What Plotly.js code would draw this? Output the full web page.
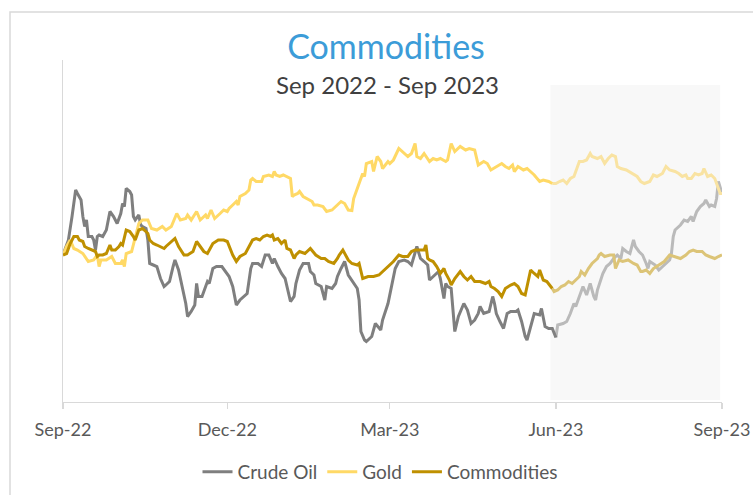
<!DOCTYPE html>
<html>
<head>
<meta charset="utf-8">
<script src="https://cdn.plot.ly/plotly-3.0.1.min.js"></script>
<style>html,body{margin:0;padding:0;background:#fff;}#chart{width:753px;height:495px;}</style>
</head>
<body>
<div id="chart"></div>
<script>
// Days since 1 Sep 2022 and index values (start = 100)
const crudeDays = [0,3,5,7,8,10,11,12,13,14,16,17,18,19,20,22,24,26,28,30,32,33,34,35,37,38,39,40,42,43,44,46,47,48,50,52,54,56,57,59,61,62,64,66,68,69,71,73,74,75,77,80,81,83,85,88,90,92,94,96,98,102,104,105,108,110,112,114,116,117,119,121,123,124,126,128,129,131,133,136,137,139,140,143,145,146,149,151,152,154,156,158,160,163,164,165,167,168,171,173,176,177,180,182,184,186,189,191,193,196,198,200,202,203,206,208,209,211,212,213,215,217,219,222,224,226,228,230,231,233,236,238,239,240,242,244,246,248,251,252,254,256,257,259,261,264,265,267,269,271,273];
const crudeVals = [100,103,107.7,113,112.3,111,107.7,105.7,107,103.7,103.7,103,101,103.7,104,103.7,105,108.7,107.7,106.3,108.3,110.3,109.7,113.3,112.7,112,107.7,107,108,106,105.7,105.3,103,98.3,98,97.7,95.3,93.7,94,94.7,97.7,99,97,93.7,90.3,87.7,88.7,90,94.3,91.7,91.7,94.7,94.3,97.3,97.7,97.7,96.7,95.7,93.7,90,91,92.3,97.3,98.3,98.3,97.7,100,100,98.3,99.3,97.7,96.3,95.3,93.7,90.7,91.7,94.3,97,98.3,98.3,96.7,96,94.3,93.7,91,93.7,93.3,94.3,95.7,97.3,98.7,96,95,93.3,91,84.7,83,82.7,83.7,86.3,85,87,90.3,93.7,97.3,98.7,99,98.7,98,101.7,99.3,98.7,98,95,96,96.7,95.3,91.3,94.3,93.7,93.3,84.7,87.7,90.3,89,86.3,87,88.3,89.7,88.3,88.7,91.7,90.3,88.3,86.7,85.3,88.3,88.7,88.7,89,86.7,83.7,83,85.7,88.3,88,89.3,85.7,85.3,85.3,83.5];
const crudeFadeDays = [273,274,277,279,281,283,284,286,288,290,292,294,295,296,298,299,301,303,305,307,309,310,312,314,316,317,319,321,323,324,325,328,330,333,336,337,338,339,342,344,346,348,349,351,353,355,356,358,359,361,362,363,364,365];
const crudeFadeVals = [83.5,86,86.3,86.7,88.3,90.3,89.7,91.7,93.7,92,94.3,91.7,91,93,95,96.3,97.7,98.3,99.3,100,99.3,101.3,100.7,100.3,103,101.7,100.7,100,98.3,97.3,98.7,98,97,98,99,100.3,103.7,105,106,107,106.7,107.7,106.7,108.7,109.7,110.3,111,109.7,110,109.7,111.3,114.7,113.7,112.3];

const goldDays = [0,2,4,6,8,11,14,17,19,20,21,24,27,29,32,33,34,35,38,40,42,44,47,49,52,55,57,60,63,65,68,69,71,74,76,79,80,82,84,87,89,91,92,94,96,97,98,101,103,104,105,107,110,111,114,116,117,118,120,122,124,126,127,128,130,131,133,136,138,139,141,144,146,149,151,152,154,156,158,160,161,163,164,166,167,168,171,172,174,176,177,178,180,181,183,186,188,191,193,195,196,198,200,201,203,205,207,209,212,213,215,217,220,223,225,228,230,233,235,237,240,243,245,247,249,250,252,255,257,259,261,264,266,269,271];
const goldVals = [100,101.7,103,101.3,101,100.3,98.7,99,100,97.7,99,99,99.7,98.3,98.3,99,97.7,100.3,100.7,103.7,106.3,107,107,105.3,105,105.7,105,105.7,108.3,107,107.3,108,107,108.7,107,108,107.3,109,107.3,108.3,109,108.7,109.3,110,110.7,110,111.7,112.3,113,115,115.3,114.7,114.7,115.7,116,115.7,116.7,116,115.7,116,115.7,115.3,111.7,112,112.3,112.7,111.7,111,110.7,110,110,109.7,108.7,109,109.7,110,110.7,110.3,109,108.9,111.3,113.3,114.3,116.3,115.7,118.3,118.7,116.7,119.7,118.7,117.3,117.7,118.7,118.3,119,121.3,120.7,119.7,120.3,122.3,119.7,119.3,120.3,119.7,118.7,119.3,119,119.3,118.7,119,122.3,120.7,121.7,121,121.3,121,118,118.7,118.3,117,117.7,118.3,117.7,117.3,118,116.7,117.7,117,117.3,116.7,116,114.7,115,114.7,114.3];
const goldFadeDays = [271,273,275,277,279,281,283,285,286,288,290,292,293,296,298,300,302,304,306,307,309,312,315,318,320,322,325,327,329,332,334,336,339,341,343,345,346,348,350,352,354,355,357,359,361,363,364,365];
const goldFadeVals = [114.3,114.3,114.7,115,114.3,115.3,115.7,117.7,118.7,118.7,119,120.3,119.7,119.3,119.7,118.3,119.3,120,119.7,117.7,117.3,117,116.3,115.7,114.7,114.3,114.7,116,115.7,116.3,117.7,117,116.7,116.3,115.7,116,115.3,115.3,116.3,116,116.3,117.3,115.7,116,115.3,113,112.3,112.3];

const commDays = [0,2,4,6,8,9,11,12,14,16,18,19,20,22,24,26,27,29,31,32,33,35,37,39,40,42,44,45,47,48,50,52,54,56,57,59,62,64,67,69,72,74,76,78,80,81,83,86,89,91,92,94,96,98,101,103,105,107,109,111,113,115,116,117,119,121,123,124,126,128,129,131,134,137,139,140,143,145,147,150,152,153,155,156,158,160,163,164,165,166,169,172,175,177,180,183,186,188,191,193,195,197,200,201,202,203,205,207,209,211,212,214,215,217,220,222,224,226,228,231,234,236,237,239,241,243,245,248,250,252,254,256,258,259,261,263,264,266,268,269,271];
const commVals = [100,100.3,102.3,103.7,103.7,103,102.7,101.7,101.3,101,100.7,99.7,100,100,100.3,102,101,101,101.7,102.3,102,105,104.7,103.7,103,105,105.3,105,104.3,103,102.3,102,101.7,101.3,101.7,102.3,103.3,101.7,100,100,100.7,102.7,101.7,100.7,100.3,101,102.3,103,103,102.7,101.8,100,98.7,99.7,100.3,101.7,103,103.3,103,103.7,104,103.7,104,103,103.3,102.3,103,101.3,101,99.3,100,100.7,100.3,101.3,100.3,100,99.3,99.3,98.7,98.3,99.3,100,101,100.3,99,98.3,98,98.3,97,95.3,95.7,95.7,96,96.7,97.7,98.7,100,99.7,99.7,100.7,101,101,101,102,99.3,99,98.7,97.7,96.3,97.3,96.3,95,94,95.3,96.7,95.7,95,95.7,94.7,94.7,94.3,94.7,93.7,93.3,92.7,91.7,93.3,94,94.3,93.7,92.3,92,95,97,96.3,95.7,97,95,94.7,94.3,93.3];
const commFadeDays = [271,272,274,276,278,280,282,284,286,287,289,291,293,296,297,298,300,303,305,306,308,310,313,316,318,320,321,323,325,327,330,333,336,339,342,345,347,349,351,354,356,358,361,363,365];
const commFadeVals = [93.3,92.7,93,93.7,94,94.7,94.3,95,95.7,96.7,96,97.3,98.3,99.3,100,100.3,99.7,100,100,97.3,99,98.7,99,98.3,98,96.7,96.7,97,96.3,97.3,98,98.7,100,99.7,99.3,100,100.7,101,100.7,100.7,100,99.7,99.3,99.7,100];

const seriesNames = ['Crude Oil', 'Gold', 'Commodities'];
const shadeStart = '2023-05-29', shadeEnd = '2023-08-31';

const start = Date.UTC(2022, 8, 1);
const toDate = d => new Date(start + d * 86400000).toISOString().slice(0, 10);

const FONT = 'Lato, "Open Sans", sans-serif';
function line(days, vals, name, color, show) {
  return {
    x: days.map(toDate), y: vals, name: name, type: 'scatter', mode: 'lines',
    line: {color: color, width: 3}, showlegend: show, hoverinfo: 'skip'
  };
}

const traces = [
  line(crudeFadeDays, crudeFadeVals, seriesNames[0], '#bababa', false),
  line(goldFadeDays, goldFadeVals, seriesNames[1], '#f9e3a2', false),
  line(commFadeDays, commFadeVals, seriesNames[2], '#dcc477', false),
  line(crudeDays, crudeVals, seriesNames[0], '#7f7f7f', true),
  line(goldDays, goldVals, seriesNames[1], '#ffd966', true),
  line(commDays, commVals, seriesNames[2], '#bf9000', true)
];

const layout = {
  width: 753, height: 495,
  margin: {l: 63, r: 31, t: 60, b: 93, pad: 0},
  paper_bgcolor: '#ffffff', plot_bgcolor: 'rgba(0,0,0,0)',
  font: {family: FONT, color: '#595959', size: 18},
  title: {
    text: 'Commodities',
    font: {family: FONT, size: 34, color: '#3c9cd8'},
    x: 386 / 753, xref: 'container', xanchor: 'center',
    y: 1 - 47 / 495, yref: 'container', yanchor: 'middle'
  },
  annotations: [{
    text: 'Sep 2022 - Sep 2023', xref: 'paper', yref: 'paper',
    x: (387 - 63) / 659, y: (402 - 85) / 342, xanchor: 'center', yanchor: 'middle',
    showarrow: false, font: {family: FONT, size: 24, color: '#404040'}
  }],
  xaxis: {
    type: 'date', range: ['2022-09-01', '2023-09-01'],
    tick0: '2022-09-01', dtick: 'M3', tickformat: '%b-%y',
    showgrid: false, zeroline: false,
    showline: true, linecolor: '#d9d9d9', linewidth: 1.3,
    ticks: 'outside', ticklen: 6, tickcolor: '#d9d9d9', tickwidth: 1.3,
    ticklabelstandoff: 5,
    tickfont: {family: FONT, size: 18, color: '#595959'}
  },
  yaxis: {
    range: [70.6, 139], showgrid: false, zeroline: false,
    showticklabels: false, ticks: '',
    showline: true, linecolor: '#d9d9d9', linewidth: 1.3
  },
  legend: {
    orientation: 'h', x: (380 - 63) / 659, xanchor: 'center',
    yref: 'container', y: 1 - 472 / 495, yanchor: 'middle',
    font: {family: FONT, size: 19, color: '#595959'},
    itemwidth: 30, tracegroupgap: 0, bgcolor: 'rgba(0,0,0,0)'
  },
  shapes: [
    {type: 'rect', xref: 'x', yref: 'paper', x0: shadeStart, x1: shadeEnd,
     y0: 0.006, y1: (402 - 85) / 342, fillcolor: '#f8f8f8', line: {width: 0}, layer: 'below'},
    {type: 'rect', xref: 'paper', yref: 'paper', x0: (10 - 63) / 659, x1: 1.2,
     y0: -0.6, y1: (402 - 12) / 342, fillcolor: 'rgba(0,0,0,0)', line: {color: '#d9d9d9', width: 1.5}, layer: 'below'}
  ]
};

Plotly.newPlot('chart', traces, layout, {displayModeBar: false, staticPlot: true});
</script>
</body>
</html>
